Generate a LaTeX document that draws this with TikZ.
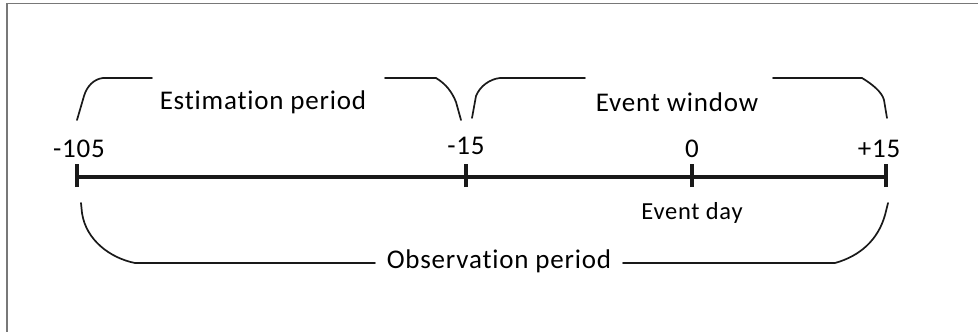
\documentclass[tikz,border=0pt]{standalone}
\usepackage{fontspec}
\setmainfont[Ligatures=NoCommon, LetterSpace=3]{Carlito}
\definecolor{framegray}{RGB}{120,120,120}
\tikzset{
  lbl/.style={inner sep=0pt, anchor=base, font=\fontsize{27}{30}\selectfont},
  smalllbl/.style={inner sep=0pt, anchor=base, font=\fontsize{24.5}{27}\selectfont},
  axis/.style={line width=4pt, black!90},
  tick/.style={line width=4pt, black!90},
  brace/.style={line width=1.7pt, line join=round, line cap=round, black!90},
  frameline/.style={line width=1.5pt, framegray}
}
\begin{document}
\begin{tikzpicture}[x=1pt,y=-1pt]
\useasboundingbox (0,0) rectangle (978,332);
% frame (partial)
\coordinate (fbl) at (7,332);
\coordinate (ftl) at (7,3.5);
\coordinate (ftr) at (978,3.5);
\draw[frameline] (fbl) -- (ftl) -- (ftr);

% timeline points
\coordinate (p1) at (77,177);
\coordinate (p2) at (466,177);
\coordinate (p3) at (692,177);
\coordinate (p4) at (886,177);
\draw[axis] (p1) -- (p4);
\foreach \p in {p1,p2,p3,p4}{
  \draw[tick] ([yshift=-10pt]\p) -- ([yshift=13pt]\p);
}

% tick labels
\node[lbl] (l1) at (79,157) {-105};
\node[lbl] (l2) at (466,154) {-15};
\node[lbl] (l3) at (692,157) {0};
\node[lbl] (l4) at (879,157) {+15};
\node[smalllbl] (ed) at (692,219) {Event day};

% period labels
\node[lbl] (est) at (263,109) {Estimation period};
\node[lbl] (evw) at (677,111) {Event window};
\node[lbl] (obs) at (499,268) {Observation period};

% estimation brace
\coordinate (eA) at (77,120);
\coordinate (eB) at (152,78);
\coordinate (eC) at (385,78);
\coordinate (eD) at (461,120);
\draw[brace] (eA) -- (84,96) .. controls (87,86) and (94,79) .. (103,78) -- (eB);
\draw[brace] (eC) -- (436,78) .. controls (446,84) and (452,92) .. (456,102) -- (eD);

% event window brace
\coordinate (wA) at (472,118);
\coordinate (wB) at (585,78);
\coordinate (wC) at (773,78);
\coordinate (wD) at (887,118);
\draw[brace] (wA) -- (476,96) .. controls (480,86) and (490,79) .. (500,78) -- (wB);
\draw[brace] (wC) -- (862,78) .. controls (872,84) and (882,92) .. (884,100) -- (wD);

% observation brace
\coordinate (oA) at (81,203);
\coordinate (oB) at (375,263);
\coordinate (oC) at (623,263);
\coordinate (oD) at (888,203);
\draw[brace] (oA) -- (82,213) .. controls (86,240) and (110,258) .. (135,263) -- (oB);
\draw[brace] (oC) -- (835,263) .. controls (860,256) and (878,240) .. (885,215) -- (oD);
\end{tikzpicture}
\end{document}
